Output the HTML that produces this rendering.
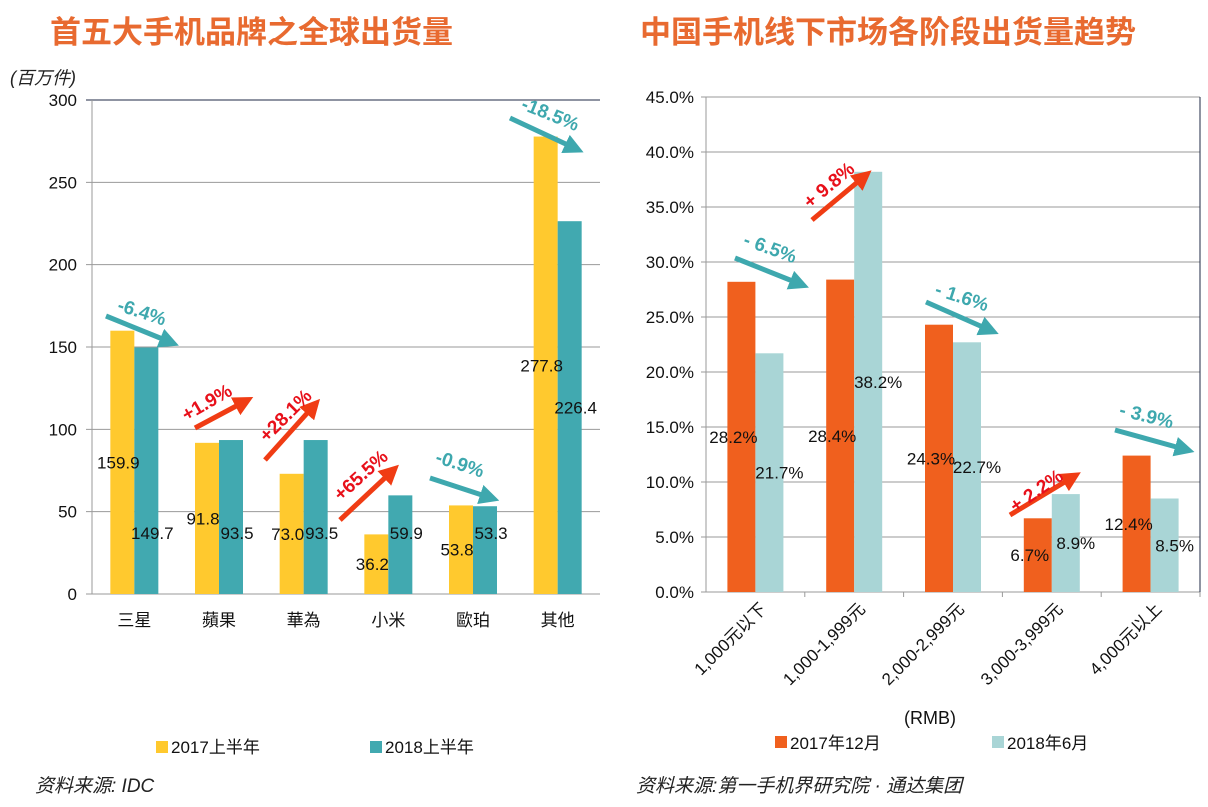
<!DOCTYPE html>
<html><head><meta charset="utf-8">
<style>
body{margin:0;background:#fff;width:1208px;height:807px;overflow:hidden}
svg{display:block;font-family:"Liberation Sans","Noto Sans CJK SC",sans-serif}
</style></head>
<body>
<svg id="s" width="1208" height="807" xmlns="http://www.w3.org/2000/svg">
<text x="50" y="43" font-size="31" font-weight="bold" fill="#e86a30">首五大手机品牌之全球出货量</text>
<text x="640" y="43" font-size="31" font-weight="bold" fill="#e86a30">中国手机线下市场各阶段出货量趋势</text>
<text x="10" y="84" font-size="18" font-style="italic" fill="#222">(百万件)</text>
<g id="L"></g><g id="R"></g>
<text x="930" y="724" font-size="18" text-anchor="middle" fill="#111">(RMB)</text>
<g>
<rect x="156" y="741" width="12" height="12" fill="#ffc92e"/>
<text x="171" y="753" font-size="17" fill="#111">2017上半年</text>
<rect x="370" y="741" width="12" height="12" fill="#41a9b0"/>
<text x="385" y="753" font-size="17" fill="#111">2018上半年</text>
</g>
<g>
<rect x="775" y="736" width="12" height="12" fill="#f0601e"/>
<text x="790" y="749" font-size="17" fill="#111">2017年12月</text>
<rect x="992" y="736" width="12" height="12" fill="#a9d5d6"/>
<text x="1007" y="749" font-size="17" fill="#111">2018年6月</text>
</g>
<text x="35" y="792" font-size="19" font-style="italic" fill="#222">资料来源: IDC</text>
<text x="636" y="792" font-size="19" font-style="italic" fill="#222">资料来源:第一手机界研究院 · 通达集团</text>
<defs>
<marker id="mr" markerWidth="4" markerHeight="4" refX="1" refY="2" orient="auto"><path d="M0,0 L4,2 L0,4 z" fill="#f03c14"/></marker>
<marker id="mt" markerWidth="4" markerHeight="4" refX="1" refY="2" orient="auto"><path d="M0,0 L4,2 L0,4 z" fill="#3ea8ae"/></marker>
</defs>
<g id="A"></g>
</svg>
<script>
const NS="http://www.w3.org/2000/svg";
const leftCats=["三星","蘋果","華為","小米","歐珀","其他"];
const left2017=[159.9,91.8,73.0,36.2,53.8,277.8];
const left2018=[149.7,93.5,93.5,59.9,53.3,226.4];
const leftTicks=[0,50,100,150,200,250,300];
const rightCats=["1,000元以下","1,000-1,999元","2,000-2,999元","3,000-3,999元","4,000元以上"];
const right2017=[28.2,28.4,24.3,6.7,12.4];
const right2018=[21.7,38.2,22.7,8.9,8.5];
const rightTicks=[0,5,10,15,20,25,30,35,40,45];

function mk(p,tag,at,txt){const e=document.createElementNS(NS,tag);for(const k in at)e.setAttribute(k,at[k]);if(txt!==undefined)e.textContent=txt;p.appendChild(e);return e;}

// LEFT
const L=document.getElementById('L');
const lx0=92,lx1=600,ly0=594,ly1=100;
const ly=v=>ly0-(v/300)*(ly0-ly1);
const lband=(lx1-lx0)/leftCats.length;
leftTicks.forEach((t,i)=>{
  const g=mk(L,'line',{x1:lx0-6,x2:lx1,y1:ly(t),y2:ly(t),stroke:t===300?'#1f2a44':'#9a9a9a','stroke-width':1});
  
  
  const tx=mk(L,'text',{x:lx0-15,y:ly(t)+6,'font-size':17,'text-anchor':'end',fill:'#111'},String(t));
  
  
});
const la=mk(L,'line',{x1:lx0,x2:lx0,y1:ly1,y2:ly0,stroke:'#9a9a9a'});


leftCats.forEach((c,i)=>{
  const cx=lx0+lband*(i+0.5), w=24;
  const b1=mk(L,'rect',{x:cx-w,y:ly(left2017[i]),width:w,height:ly0-ly(left2017[i]),fill:'#ffc92e'});
  
  
  const b2=mk(L,'rect',{x:cx,y:ly(left2018[i]),width:w,height:ly0-ly(left2018[i]),fill:'#41a9b0'});
  
  
  const t1=mk(L,'text',{x:cx-16,y:ly(left2017[i]/2)+6,'font-size':17,'text-anchor':'middle',fill:'#111'},left2017[i].toFixed(1));
  
  
  const ty=left2018[i]>200?ly(left2018[i]/2)+6:ly(37)+6;
  const t2=mk(L,'text',{x:cx+18,y:ty,'font-size':17,'text-anchor':'middle',fill:'#111'},left2018[i].toFixed(1));
  
  
  const cl=mk(L,'text',{x:cx,y:ly0+32,'font-size':17,'text-anchor':'middle',fill:'#111'},c);
  
  
});

// RIGHT
const R=document.getElementById('R');
const rx0=706,rx1=1200,ry0=592,ry1=97;
const ry=v=>ry0-(v/45)*(ry0-ry1);
const rband=(rx1-rx0)/rightCats.length;
rightTicks.forEach(t=>{
  const g=mk(R,'line',{x1:rx0-5,x2:rx1,y1:ry(t),y2:ry(t),stroke:'#9a9a9a'});
  
  
  const tx=mk(R,'text',{x:rx0-12,y:ry(t)+6,'font-size':17,'text-anchor':'end',fill:'#111'},t.toFixed(1)+'%');
  
  
});
const ra=mk(R,'line',{x1:rx0,x2:rx0,y1:ry1,y2:ry0,stroke:'#9a9a9a'});


const rb=mk(R,'line',{x1:rx1,x2:rx1,y1:ry1,y2:ry0,stroke:'#1f2a44'});


rightCats.forEach((c,i)=>{
  const cx=rx0+rband*(i+0.5), w=28;
  const b1=mk(R,'rect',{x:cx-w,y:ry(right2017[i]),width:w,height:ry0-ry(right2017[i]),fill:'#f0601e'});
  
  
  const b2=mk(R,'rect',{x:cx,y:ry(right2018[i]),width:w,height:ry0-ry(right2018[i]),fill:'#a9d5d6'});
  
  
  const t1=mk(R,'text',{x:cx-22,y:ry(right2017[i]/2)+6,'font-size':17,'text-anchor':'middle',fill:'#111'},right2017[i].toFixed(1)+'%');
  
  
  const t2=mk(R,'text',{x:cx+24,y:ry(right2018[i]/2)+6,'font-size':17,'text-anchor':'middle',fill:'#111'},right2018[i].toFixed(1)+'%');
  
  
  const tk=mk(R,'line',{x1:rx0+rband*(i+1),x2:rx0+rband*(i+1),y1:ry0,y2:ry0+5,stroke:'#9a9a9a'});
  
  
  const lx=cx+12,lyy=ry0+18;
  const cl=mk(R,'text',{x:lx,y:lyy,'font-size':17,'text-anchor':'end',fill:'#111',transform:`rotate(-45 ${lx} ${lyy})`},c);
  
  
});

// annotation arrows
const A=document.getElementById('A');
const arrows=[
 [106,316,165,340,'t','-6.4%',140,318,18],
 [195,428,240,404,'r','+1.9%',210,408,-30],
 [265,460,310,410,'r','+28.1%',290,420,-45],
 [340,520,388,475,'r','+65.5%',365,480,-42],
 [430,478,485,496,'t','-0.9%',458,470,18],
 [510,118,570,146,'t','-18.5%',548,120,22],
 [735,258,795,282,'t','- 6.5%',768,254,20],
 [812,220,860,180,'r','+ 9.8%',833,190,-40],
 [926,302,985,328,'t','- 1.6%',960,303,18],
 [1010,515,1068,480,'r','+ 2.2%',1040,496,-35],
 [1115,430,1180,448,'t','- 3.9%',1145,422,14]
];
arrows.forEach(a=>{
  const col=a[4]==='r'?'#f03c14':'#3ea8ae';
  const l=mk(A,'line',{x1:a[0],y1:a[1],x2:a[2],y2:a[3],stroke:col,'stroke-width':5,'marker-end':a[4]==='r'?'url(#mr)':'url(#mt)'});
  
  
  const t=mk(A,'text',{x:a[6],y:a[7],'font-size':19,'font-weight':'bold','text-anchor':'middle',fill:a[4]==='r'?'#e8101a':'#3ea8ae',transform:`rotate(${a[8]} ${a[6]} ${a[7]})`},a[5]);
  
  
});
</script>
</body></html>
